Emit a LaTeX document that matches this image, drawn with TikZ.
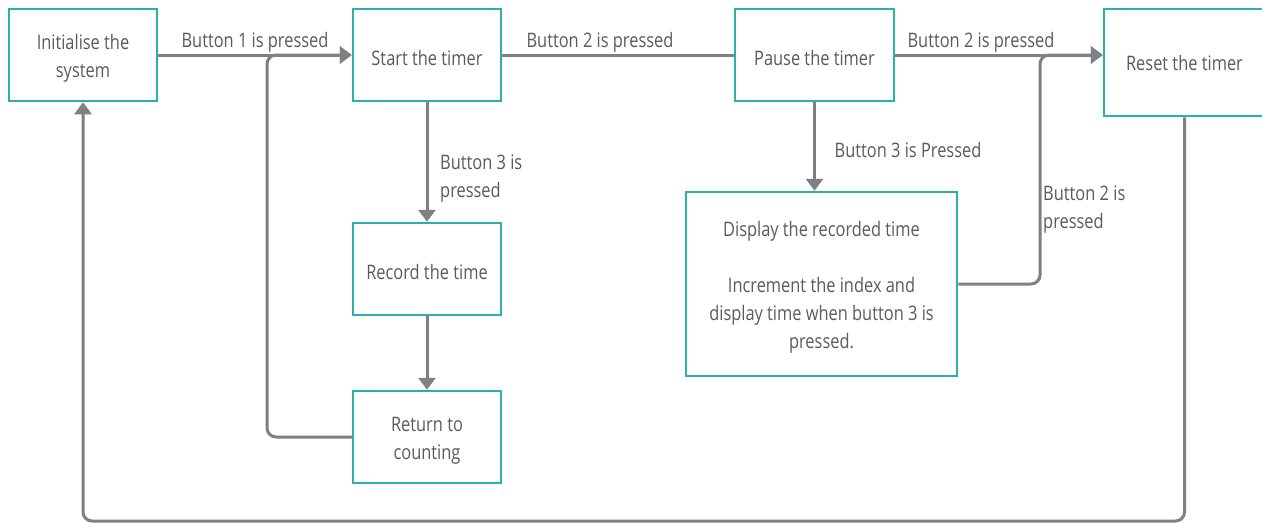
\documentclass[tikz,border=0pt]{standalone}
\usepackage{fontspec}
\setmainfont{Open Sans}[FakeStretch=0.82]
\usetikzlibrary{arrows.meta}
\definecolor{boxteal}{HTML}{2BB0AC}
\definecolor{linegray}{HTML}{808080}
\definecolor{txtgray}{HTML}{5A5A5A}
\newcommand{\tp}{\rule{0pt}{21pt}}
\begin{document}
\begin{tikzpicture}[x=1pt,y=-1pt,
  box/.style={draw=boxteal, line width=2.5pt, align=center, text=txtgray, inner sep=0pt,
    font=\fontsize{20}{28}\selectfont},
  lbl/.style={text=txtgray, inner sep=0pt, yshift=-2.5pt, font=\fontsize{20}{28}\selectfont},
  conn/.style={draw=linegray, line width=3pt, rounded corners=9pt},
  arr/.style={conn, -{Triangle[length=12pt,width=17pt]}}]
\useasboundingbox (0,0) rectangle (1262,523);
\node[box, minimum width=148pt, minimum height=92pt] (init) at (83,55) {\tp Initialise the\\system};
\node[box, minimum width=148pt, minimum height=92pt] (start) at (427,55) {\tp Start the timer};
\node[box, minimum width=159pt, minimum height=92pt] (pause) at (814.5,55) {\tp Pause the timer};
\node[box, minimum width=161pt, minimum height=107pt] (reset) at (1184.5,62.5) {\rule{0pt}{17pt}Reset the timer};
\node[box, minimum width=148pt, minimum height=92pt] (record) at (427,269) {\tp Record the time};
\node[box, minimum width=148pt, minimum height=92pt] (ret) at (427,437) {\tp Return to\\counting};
\node[box, minimum width=271pt, minimum height=184pt] (disp) at (821.5,284)
  {\tp Display the recorded time\\[28pt]Increment the index and\\display time when button 3 is\\pressed.};

\coordinate (lpx) at (267,0);
\coordinate (rpx) at (1040,0);
\coordinate (boty) at (0,521);

\draw[arr] (init.east) -- (start.west);
\draw[arr] (ret.west) -- (ret.west -| lpx) -- (lpx |- start.west) -- (start.west);
\draw[conn] (start.east) -- (pause.west);
\draw[arr] (pause.east) -- (reset.west |- pause.east);
\draw[arr] (disp.east) -- (disp.east -| rpx) -- (rpx |- pause.east) -- (reset.west |- pause.east);
\draw[arr] (start.south) -- (record.north);
\draw[arr] (record.south) -- (ret.north);
\draw[arr] (pause.south) -- (pause.south |- disp.north);
\draw[arr] (reset.south) -- (reset.south |- boty) -- (init.south |- boty) -- (init.south);

\node[lbl] (l1) at (255,40) {Button 1 is pressed};
\node[lbl] (l2) at (600,40) {Button 2 is pressed};
\node[lbl] (l3) at (981,40) {Button 2 is pressed};
\node[lbl, anchor=west, align=left] (l4) at (440,176) {Button 3 is\\pressed};
\node[lbl] (l5) at (908,147) {Button 3 is Pressed};
\node[lbl, anchor=west, align=left] (l6) at (1043,207) {Button 2 is\\pressed};
\end{tikzpicture}
\end{document}
